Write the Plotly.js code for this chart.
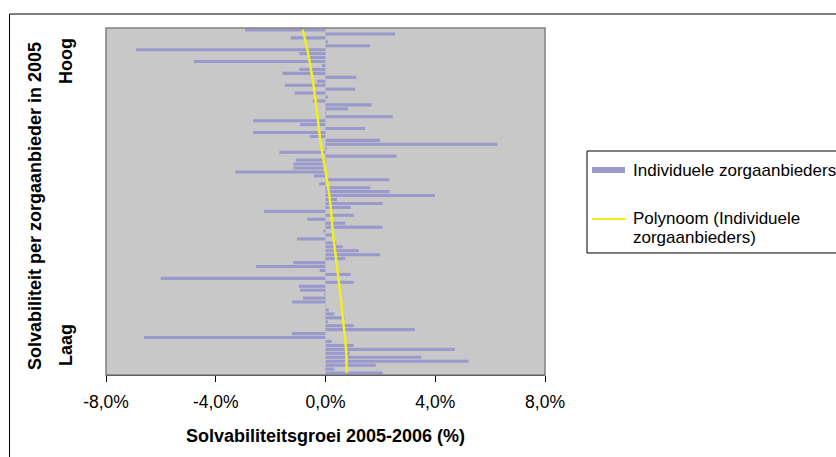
<!DOCTYPE html>
<html>
<head>
<meta charset="utf-8">
<script src="https://cdn.plot.ly/plotly-3.0.1.min.js"></script>
<style>html,body{margin:0;padding:0;background:#fff;}#chart{width:836px;height:457px;}</style>
</head>
<body>
<div id="chart"></div>
<script>
// Solvability growth per care provider, ordered from highest (top) to lowest (bottom) solvability in 2005
const growthValues = [
  -2.93, 2.53, -1.27, 0.08, 1.62, -6.90, -0.95, -0.59, -4.79, -0.13,
  -0.95, -1.57, 1.12, -0.31, -1.48, 1.08, -1.12, 0.08, -0.47, 1.68,
  0.82, 0.03, 2.45, -2.64, -0.93, 1.44, -2.64, -0.56, 1.99, 6.26,
  0.05, -1.68, 2.58, -1.08, -1.17, -1.17, -3.29, -0.42, 2.33, -0.23,
  1.63, 2.33, 3.99, 0.42, 2.08, 0.92, -2.24, 1.03, -0.67, 0.72,
  2.08, -0.08, 0.25, -1.03, 0.39, 0.63, 1.22, 1.99, 0.72, -1.17,
  -2.53, -0.21, 0.92, -6.01, 1.03, -0.97, -0.93, -0.05, -0.82, -1.22,
  0.02, 0.12, 0.32, 0.69, 0.08, 1.03, 3.25, -1.22, -6.61, 0.22,
  1.03, 4.71, 0.88, 3.49, 5.21, 1.83, 0.32, 2.08
];
const providers = growthValues.map((v, i) => i + 1);

// Polynomial trend line
const trendPositions = [1, 7, 15, 21, 29, 36, 44, 53, 57, 65, 74, 82, 88];
const trendValues = [-0.83, -0.63, -0.44, -0.32, -0.19, -0.02, 0.16, 0.28, 0.35, 0.49, 0.63, 0.75, 0.77];

const tickValues = [-8, -4, 0, 4, 8];
const tickLabels = ['-8,0%', '-4,0%', '0,0%', '4,0%', '8,0%'];

const barName = 'Individuele zorgaanbieders';
const trendNameLine1 = 'Polynoom (Individuele';
const trendNameLine2 = 'zorgaanbieders)';
const xTitle = 'Solvabiliteitsgroei 2005-2006 (%)';
const yTitle = 'Solvabiliteit per zorgaanbieder in 2005';
const yHigh = 'Hoog';
const yLow = 'Laag';

const FONT = 'Liberation Sans, Arial, sans-serif';
const barColor = '#9999CC';
const trendColor = '#F0F020';
const BOLD = 18;
const REG = 17.5;
const LEG = 17;

const traces = [
  {
    type: 'bar', orientation: 'h', name: barName,
    x: growthValues, y: providers,
    marker: {color: barColor, line: {width: 0}},
    showlegend: false, hoverinfo: 'x'
  },
  {
    type: 'scatter', mode: 'lines', name: trendNameLine1 + ' ' + trendNameLine2,
    x: trendValues, y: trendPositions,
    line: {color: trendColor, width: 2.5, shape: 'spline'},
    showlegend: false, hoverinfo: 'x'
  }
];

const layout = {
  width: 836, height: 457,
  margin: {l: 106, r: 291, t: 28, b: 82},
  paper_bgcolor: '#ffffff',
  plot_bgcolor: '#C8C8C8',
  bargap: 0.22,
  font: {family: FONT, size: REG, color: '#000'},
  xaxis: {
    range: [-8, 8], tickvals: tickValues, ticktext: tickLabels,
    ticks: 'outside', ticklen: 6, tickcolor: '#000', tickwidth: 1,
    showline: true, linecolor: '#000', linewidth: 1,
    showgrid: false, zeroline: false, fixedrange: true,
    tickfont: {family: FONT, size: REG, color: '#000'},
    ticklabelstandoff: 5
  },
  yaxis: {
    range: [88.5, 0.5], showticklabels: false, ticks: '',
    showgrid: false, zeroline: false, showline: false, fixedrange: true
  },
  shapes: [
    {type: 'rect', xref: 'paper', yref: 'paper', x0: 0, x1: 1, y0: 0, y1: 1,
     line: {color: '#808080', width: 1.5}, fillcolor: 'rgba(0,0,0,0)', layer: 'above'},
    {type: 'rect', xref: 'paper', yref: 'paper', x0: -0.2198, x1: 1.72, y0: -0.27, y1: 1.0403,
     line: {color: '#000', width: 1}, fillcolor: 'rgba(0,0,0,0)'},
    // legend box
    {type: 'rect', xref: 'paper', yref: 'paper', x0: 1.0957, x1: 1.72, y0: 0.3516, y1: 0.6455,
     line: {color: '#000', width: 1}, fillcolor: '#fff'},
    {type: 'rect', xref: 'paper', yref: 'paper', x0: 1.1071, x1: 1.1822, y0: (375 - 173) / 347, y1: (375 - 167) / 347,
     line: {width: 0}, fillcolor: barColor},
    {type: 'line', xref: 'paper', yref: 'paper', x0: 1.1071, x1: 1.1845, y0: (375 - 219) / 347, y1: (375 - 219) / 347,
     line: {color: trendColor, width: 2}}
  ],
  annotations: [
    {text: '<b>' + xTitle + '</b>', xref: 'paper', yref: 'paper', x: 0.501, y: (375 - 436) / 347,
     xanchor: 'center', yanchor: 'middle', showarrow: false, font: {family: FONT, size: BOLD}},
    {text: '<b>' + yTitle + '</b>', xref: 'paper', yref: 'paper', x: (35 - 106) / 439, y: (375 - 206) / 347,
     xanchor: 'center', yanchor: 'middle', textangle: -90, showarrow: false, font: {family: FONT, size: BOLD}},
    {text: '<b>' + yHigh + '</b>', xref: 'paper', yref: 'paper', x: (66 - 106) / 439, y: (375 - 61) / 347,
     xanchor: 'center', yanchor: 'middle', textangle: -90, showarrow: false, font: {family: FONT, size: BOLD}},
    {text: '<b>' + yLow + '</b>', xref: 'paper', yref: 'paper', x: (66 - 106) / 439, y: (375 - 345) / 347,
     xanchor: 'center', yanchor: 'middle', textangle: -90, showarrow: false, font: {family: FONT, size: BOLD}},
    {text: barName, xref: 'paper', yref: 'paper', x: 1.1959, y: (375 - 170) / 347,
     xanchor: 'left', yanchor: 'middle', showarrow: false, font: {family: FONT, size: LEG}},
    {text: trendNameLine1, xref: 'paper', yref: 'paper', x: 1.1959, y: (375 - 218) / 347,
     xanchor: 'left', yanchor: 'middle', showarrow: false, font: {family: FONT, size: LEG}},
    {text: trendNameLine2, xref: 'paper', yref: 'paper', x: 1.1959, y: (375 - 237) / 347,
     xanchor: 'left', yanchor: 'middle', showarrow: false, font: {family: FONT, size: LEG}}
  ]
};

Plotly.newPlot('chart', traces, layout, {displayModeBar: false, staticPlot: true});
</script>
</body>
</html>
